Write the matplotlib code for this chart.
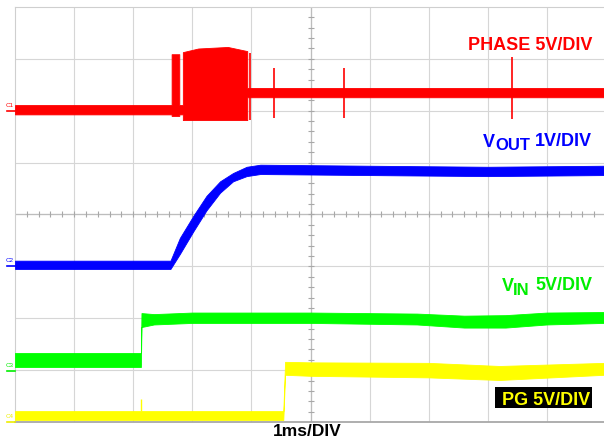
import matplotlib
matplotlib.use('Agg')
import matplotlib.pyplot as plt
import numpy as np
from matplotlib.patches import Rectangle

W, H = 604, 440

# time in ms (1 ms/div), amplitude in screen divisions (0 = bottom graticule line)
phase_t = [0.0, 2.65, 2.65, 2.78, 2.78, 2.84, 2.84, 3.10, 3.60, 3.93, 3.93, 9.97]
phase_hi = [6.11, 6.11, 7.09, 7.09, 6.11, 6.11, 7.13, 7.20, 7.23, 7.15, 6.44, 6.44]
phase_lo = [5.93, 5.93, 5.90, 5.90, 5.93, 5.93, 5.82, 5.82, 5.82, 5.82, 6.26, 6.26]
phase_spike_t = [3.98, 4.38, 5.57, 8.41]
phase_spike_hi = [7.11, 6.82, 6.82, 7.03]
phase_spike_lo = [5.82, 5.86, 5.86, 5.84]

vout_t = [0.0, 2.63, 2.79, 3.02, 3.24, 3.47, 3.69, 3.92, 4.15, 6.0, 8.0, 9.97]
vout_hi = [3.11, 3.11, 3.55, 3.98, 4.36, 4.64, 4.80, 4.92, 4.96, 4.94, 4.92, 4.94]
vout_lo = [2.95, 2.95, 3.24, 3.68, 4.08, 4.42, 4.64, 4.74, 4.78, 4.76, 4.74, 4.76]

vin_t = [0.0, 2.13, 2.14, 2.35, 3.0, 5.0, 6.8, 7.6, 8.3, 9.0, 9.97]
vin_hi = [1.33, 1.33, 2.10, 2.08, 2.11, 2.11, 2.09, 2.05, 2.06, 2.11, 2.12]
vin_lo = [1.06, 1.06, 1.83, 1.88, 1.91, 1.91, 1.88, 1.82, 1.82, 1.88, 1.91]

pg_t = [0.0, 4.54, 4.57, 5.0, 7.0, 8.2, 9.97]
pg_hi = [0.21, 0.21, 1.16, 1.15, 1.14, 1.08, 1.14]
pg_lo = [0.04, 0.04, 0.91, 0.89, 0.86, 0.81, 0.91]
pg_spike_t = [2.13]
pg_spike_hi = [0.44]

chan_names = ['C1', 'C2', 'C3', 'C4']
chan_levels = [6.0, 3.0, 0.98, 0.0]
chan_colors = ['#ff0000', '#0000ff', '#00ee00', '#eeee00']

RED = '#ff0000'
BLUE = '#0000ff'
GREEN = '#00ff00'
YELLOW = '#ffff00'


def fx(px):
    return px / W


def fy(py):
    return 1 - py / H


fig = plt.figure(figsize=(W / 100, H / 100), dpi=100)
fig.patch.set_facecolor('white')
ax = fig.add_axes([fx(15), fy(422), 591 / W, 415 / H])
ax.set_xlim(0, 10)
ax.set_ylim(0, 8)
ax.set_xticks([])
ax.set_yticks([])
for side in ['top', 'left']:
    ax.spines[side].set_color('#cfcfcf')
    ax.spines[side].set_linewidth(0.8)
ax.spines['right'].set_visible(False)
ax.spines['bottom'].set_color('#a8a8a8')
ax.spines['bottom'].set_linewidth(1.3)

# graticule
for x in range(1, 10):
    ax.axvline(x, color='#d6d6d6', lw=0.8, zorder=0)
for y in range(1, 8):
    ax.axhline(y, color='#d6d6d6', lw=0.8, zorder=0)
ax.axvline(5, color='#bdbdbd', lw=0.9, zorder=0)
ax.axhline(4, color='#bdbdbd', lw=0.9, zorder=0)
minor_x = np.arange(0.2, 10, 0.2)
minor_y = np.arange(0.2, 8, 0.2)
ax.plot(minor_x, np.full_like(minor_x, 4), ls='none', marker='|', ms=4,
        mew=0.8, color='#a8a8a8', zorder=0)
ax.plot(np.full_like(minor_y, 5), minor_y, ls='none', marker='_', ms=4,
        mew=0.8, color='#a8a8a8', zorder=0)

# traces
ax.fill_between(phase_t, phase_lo, phase_hi, color=RED, lw=0.6, zorder=3)
ax.vlines(phase_spike_t, phase_spike_lo, phase_spike_hi, color=RED, lw=1.2, zorder=3)
ax.fill_between(vout_t, vout_lo, vout_hi, color=BLUE, lw=0.6, zorder=3)
ax.fill_between(vin_t, vin_lo, vin_hi, color=GREEN, lw=0.6, zorder=3)
ax.fill_between(pg_t, pg_lo, pg_hi, color=YELLOW, lw=0.6, zorder=3)
ax.vlines(pg_spike_t, [pg_hi[0]] * len(pg_spike_t), pg_spike_hi, color=YELLOW, lw=1.0, zorder=3)

# channel ground markers
for name, lvl, col in zip(chan_names, chan_levels, chan_colors):
    ax.plot([-0.135, 0.0], [lvl, lvl], color=col, lw=1.2, clip_on=False, zorder=4)
    ax.text(-0.085, lvl + 0.06, name, color=col, fontsize=4.5, ha='center',
            va='bottom', clip_on=False, family='Liberation Sans')

font = dict(family='Liberation Sans', weight='bold')
MAIN = 13
SUB = 12

fig.text(fx(592), fy(50), 'PHASE 5V/DIV', color=RED, fontsize=MAIN,
         ha='right', va='baseline', **font)

renderer = fig.canvas.get_renderer()


def sub_label(x_right, base, name, sub, rest, color, drop):
    t = fig.text(fx(x_right), fy(base), rest, color=color, fontsize=MAIN,
                 ha='right', va='baseline', **font)
    x0 = t.get_window_extent(renderer).x0 - 5
    s = fig.text(x0 / W, fy(base + drop), sub, color=color, fontsize=SUB,
                 ha='right', va='baseline', **font)
    x1 = s.get_window_extent(renderer).x0
    fig.text(x1 / W, fy(base + 1), name, color=color, fontsize=MAIN,
             ha='right', va='baseline', **font)


sub_label(592, 146, 'V', 'OUT', '1V/DIV', BLUE, 4)
sub_label(592, 290, 'V', 'IN', '5V/DIV', '#00ee00', 5)

fig.patches.append(Rectangle((fx(495), fy(408)), 97 / W, 21 / H,
                             transform=fig.transFigure, facecolor='black',
                             edgecolor='none', zorder=5))
fig.text(fx(590), fy(405), 'PG 5V/DIV', color=YELLOW, fontsize=MAIN,
         ha='right', va='baseline', zorder=6, **font)

fig.text(fx(307), fy(436), '1ms/DIV', color='black', fontsize=12.5,
         ha='center', va='baseline', **font)

fig.savefig('out.png', dpi=100, facecolor='white')
